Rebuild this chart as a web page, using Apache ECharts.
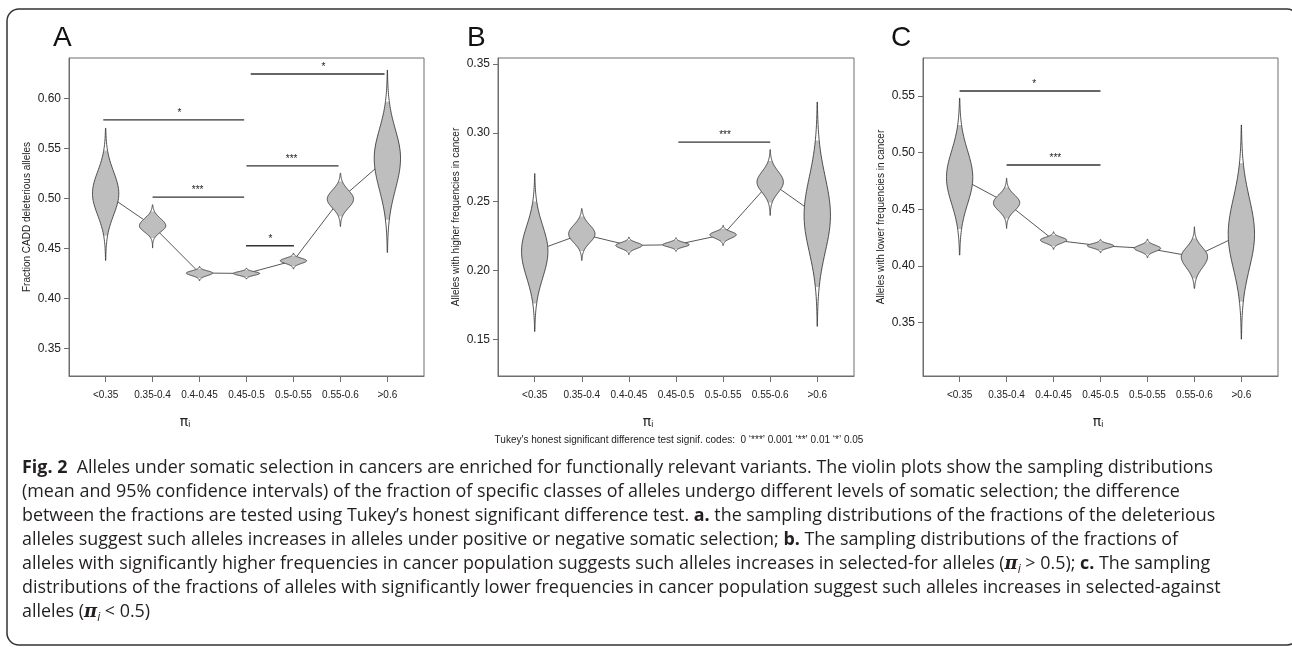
<!DOCTYPE html>
<html>
<head>
<meta charset="utf-8">
<script src="https://cdn.jsdelivr.net/npm/echarts@6.0.0/dist/echarts.min.js"></script>
<style>
  html, body { margin: 0; padding: 0; background: #fff; }
  #fig { width: 1292px; height: 647px; }
</style>
</head>
<body>
<div id="fig"></div>
<script>
var cats = ['<0.35', '0.35-0.4', '0.4-0.45', '0.45-0.5', '0.5-0.55', '0.55-0.6', '>0.6'];

// violin stats per category: mean, lower / upper 95% CI, min, max
var meanA = [0.505, 0.4727, 0.4254, 0.4250, 0.4377, 0.4994, 0.5404];
var loA   = [0.4627, 0.4604, 0.4204, 0.4213, 0.4323, 0.482, 0.4787];
var hiA   = [0.548, 0.487, 0.4297, 0.4285, 0.4427, 0.517, 0.597];
var minA  = [0.438, 0.4504, 0.4177, 0.4194, 0.4294, 0.472, 0.446];
var maxA  = [0.5704, 0.4937, 0.432, 0.4304, 0.4453, 0.5253, 0.6287];

var meanB = [0.214, 0.2265, 0.2182, 0.2187, 0.226, 0.2642, 0.240];
var loB   = [0.176, 0.2141, 0.2138, 0.2156, 0.2209, 0.2493, 0.188];
var hiB   = [0.2502, 0.2393, 0.2222, 0.222, 0.2304, 0.2795, 0.2945];
var minB  = [0.1557, 0.2073, 0.2115, 0.2139, 0.2182, 0.240, 0.1594];
var maxB  = [0.2704, 0.2449, 0.2243, 0.2238, 0.2328, 0.2878, 0.3224];

var meanC = [0.478, 0.4558, 0.4229, 0.4179, 0.4156, 0.4082, 0.428];
var loC   = [0.4326, 0.442, 0.4175, 0.4139, 0.4102, 0.3891, 0.3685];
var hiC   = [0.5244, 0.4694, 0.4277, 0.4216, 0.421, 0.4244, 0.4906];
var minC  = [0.4097, 0.4332, 0.4147, 0.4117, 0.4073, 0.3803, 0.3355];
var maxC  = [0.548, 0.4774, 0.4302, 0.4235, 0.4238, 0.4346, 0.5244];

// significance bars: [from, to, y, star x, stars]  (x in category units, 1 = first)
var sigA = [
    [0.95, 3.95, 0.5787, 2.57, '*'],
    [2.0, 3.95, 0.5014, 2.96, '***'],
    [4.09, 6.94, 0.6247, 5.64, '*'],
    [4.0, 5.96, 0.5327, 4.96, '***'],
    [3.99, 5.01, 0.4527, 4.51, '*']
];
var sigB = [
    [4.05, 6.0, 0.2933, 5.04, '***']
];
var sigC = [
    [1.0, 4.0, 0.5544, 2.59, '*'],
    [2.0, 4.0, 0.4891, 3.04, '***']
];

var ticksA = [0.35, 0.40, 0.45, 0.50, 0.55, 0.60];
var ticksB = [0.15, 0.20, 0.25, 0.30, 0.35];
var ticksC = [0.35, 0.40, 0.45, 0.50, 0.55];

var yNames = ['Fraction CADD deleterious alleles', 'Alleles with higher frequencies in cancer', 'Alleles with lower frequencies in cancer'];

var myChart = echarts.init(document.getElementById('fig'));

var AX = '#6e6e6e';
var TXT = '#222';
var HALF = 0.28;

function violinData(mean, lo, hi, mn, mx) {
    return mean.map(function (m, i) { return [i + 1, m, lo[i], hi[i], mn[i], mx[i]]; });
}

function renderViolin(params, api) {
    var x = api.value(0), m = api.value(1), lo = api.value(2), hi = api.value(3);
    var mn = api.value(4), mx = api.value(5);
    var sUp = (hi - m) / 1.96, sLo = (m - lo) / 1.96;
    function w(y) {
        var s = y >= m ? sUp : sLo;
        var z = (y - m) / s;
        return HALF * Math.exp(-0.5 * z * z);
    }
    function outline(a, b) {
        var n = 90, right = [], left = [];
        for (var k = 0; k <= n; k++) {
            var y = a - (a - b) * k / n;
            right.push(api.coord([x + w(y), y]));
            left.unshift(api.coord([x - w(y), y]));
        }
        return right.concat(left);
    }
    var full = outline(mx, mn);
    var ci = outline(hi, lo);
    return {
        type: 'group',
        children: [
            { type: 'polygon', shape: { points: full }, style: { fill: '#fff', stroke: null } },
            { type: 'polygon', shape: { points: ci }, style: { fill: '#bebebe', stroke: null } },
            { type: 'polygon', shape: { points: full }, style: { fill: null, stroke: '#3c3c3c', lineWidth: 0.9 } }
        ]
    };
}

function sigRenderer(list) {
    return function (params, api) {
        var d = list[params.dataIndex];
        var p1 = api.coord([d[0], d[2]]), p2 = api.coord([d[1], d[2]]);
        var ps = api.coord([d[3], d[2]]);
        return {
            type: 'group',
            children: [
                { type: 'line', shape: { x1: p1[0], y1: p1[1], x2: p2[0], y2: p2[1] }, style: { stroke: '#333', lineWidth: 1.3 } },
                { type: 'text', x: ps[0], y: ps[1] - 2, style: { text: d[4], fill: '#222', font: '10px "Liberation Sans"', align: 'center', verticalAlign: 'bottom' } }
            ]
        };
    };
}

var grids = [
    { left: 69, top: 58, width: 355, height: 318 },
    { left: 498, top: 58, width: 356, height: 318 },
    { left: 923, top: 58, width: 355, height: 318 }
];
var yRanges = [[0.3223, 0.6407], [0.1233, 0.3544], [0.3030, 0.5835]];
var yTicks = [ticksA, ticksB, ticksC];

var option = {
    animation: false,
    textStyle: { fontFamily: 'Liberation Sans' },
    grid: grids.map(function (g) {
        return Object.assign({ show: true, borderColor: AX, borderWidth: 1, backgroundColor: 'transparent' }, g);
    }),
    xAxis: grids.map(function (g, i) {
        return {
            type: 'value', gridIndex: i, min: 0.22, max: 7.78,
            splitLine: { show: false },
            axisLine: { show: true, onZero: false, lineStyle: { color: AX } },
            axisTick: { show: true, length: 6, customValues: [1, 2, 3, 4, 5, 6, 7], lineStyle: { color: AX } },
            axisLabel: {
                customValues: [1, 2, 3, 4, 5, 6, 7], margin: 14, fontSize: 10, color: TXT,
                formatter: function (v) { return cats[Math.round(v) - 1]; }
            }
        };
    }),
    yAxis: grids.map(function (g, i) {
        return {
            type: 'value', gridIndex: i, min: yRanges[i][0], max: yRanges[i][1],
            name: yNames[i], nameLocation: 'middle', nameGap: 37,
            nameTextStyle: { fontSize: 10, color: TXT },
            splitLine: { show: false },
            axisLine: { show: true, lineStyle: { color: AX } },
            axisTick: { show: true, length: 5, customValues: yTicks[i], lineStyle: { color: AX } },
            axisLabel: {
                customValues: yTicks[i], margin: 8, fontSize: 12, color: TXT,
                formatter: function (v) { return v.toFixed(2); }
            }
        };
    }),
    series: [],
    graphic: []
};

var means = [meanA, meanB, meanC];
var vdata = [
    violinData(meanA, loA, hiA, minA, maxA),
    violinData(meanB, loB, hiB, minB, maxB),
    violinData(meanC, loC, hiC, minC, maxC)
];
var sigs = [sigA, sigB, sigC];

for (var i = 0; i < 3; i++) {
    option.series.push({
        type: 'line', xAxisIndex: i, yAxisIndex: i, z: 1,
        data: means[i].map(function (m, k) { return [k + 1, m]; }),
        symbol: 'none', lineStyle: { color: '#444', width: 0.9 }
    });
    option.series.push({
        type: 'custom', xAxisIndex: i, yAxisIndex: i, z: 3,
        renderItem: renderViolin,
        encode: { x: 0, y: [1, 4, 5] },
        data: vdata[i]
    });
    option.series.push({
        type: 'custom', xAxisIndex: i, yAxisIndex: i, z: 3,
        renderItem: sigRenderer(sigs[i]),
        encode: { x: [0, 1], y: 2 },
        data: sigs[i].map(function (d) { return [d[0], d[1], d[2], d[3]]; })
    });
}

var piRich = {
    p: { fontSize: 14, fontFamily: 'DejaVu Sans', fill: TXT },
    s: { fontSize: 9, lineHeight: 12, verticalAlign: 'bottom', fill: TXT }
};
var capFont = '"Open Sans"';
var capSize = 17.9;
var capRich = {
    b: { fontWeight: 'bold', fontSize: capSize, fontFamily: capFont, fill: '#231f20' },
    p: { fontWeight: 'bold', fontStyle: 'italic', fontSize: capSize, fontFamily: 'DejaVu Serif', fill: '#231f20' },
    s: { fontStyle: 'italic', fontSize: 12, lineHeight: 16, verticalAlign: 'bottom', fontFamily: capFont, fill: '#231f20' }
};
var capLines = [
    '{b|Fig. 2}  Alleles under somatic selection in cancers are enriched for functionally relevant variants. The violin plots show the sampling distributions',
    '(mean and 95% confidence intervals) of the fraction of specific classes of alleles undergo different levels of somatic selection; the difference',
    'between the fractions are tested using Tukey\u2019s honest significant difference test. {b|a.} the sampling distributions of the fractions of the deleterious',
    'alleles suggest such alleles increases in alleles under positive or negative somatic selection; {b|b.} The sampling distributions of the fractions of',
    'alleles with significantly higher frequencies in cancer population suggests such alleles increases in selected-for alleles ({p|\u03c0}{s|i} > 0.5); {b|c.} The sampling',
    'distributions of the fractions of alleles with significantly lower frequencies in cancer population suggest such alleles increases in selected-against',
    'alleles ({p|\u03c0}{s|i} < 0.5)'
];

option.graphic = [
    { type: 'rect', shape: { x: 7, y: 9, width: 1292, height: 636, r: 12 }, style: { fill: 'none', stroke: '#333', lineWidth: 1.5 } },
    { type: 'text', x: 53, y: 38, style: { text: 'A', font: '28px "Liberation Sans"', fill: '#111', verticalAlign: 'middle' } },
    { type: 'text', x: 467, y: 38, style: { text: 'B', font: '28px "Liberation Sans"', fill: '#111', verticalAlign: 'middle' } },
    { type: 'text', x: 891, y: 38, style: { text: 'C', font: '28px "Liberation Sans"', fill: '#111', verticalAlign: 'middle' } },
    { type: 'text', x: 185, y: 422, style: { text: '{p|\u03c0}{s|i}', rich: piRich, align: 'center', verticalAlign: 'middle', fill: TXT } },
    { type: 'text', x: 648, y: 422, style: { text: '{p|\u03c0}{s|i}', rich: piRich, align: 'center', verticalAlign: 'middle', fill: TXT } },
    { type: 'text', x: 1098, y: 422, style: { text: '{p|\u03c0}{s|i}', rich: piRich, align: 'center', verticalAlign: 'middle', fill: TXT } },
    { type: 'text', x: 679, y: 440, style: { text: 'Tukey\'s honest significant difference test signif. codes:  0 \u2018***\u2019 0.001 \u2018**\u2019 0.01 \u2018*\u2019 0.05', font: '10px "Liberation Sans"', fill: TXT, align: 'center', verticalAlign: 'middle' } },
    { type: 'text', x: 22, y: 456, style: { text: capLines.join('\n'), rich: capRich, font: capSize + 'px ' + capFont, lineHeight: 24, fill: '#231f20', align: 'left', verticalAlign: 'top' } }
];

myChart.setOption(option);
</script>
</body>
</html>
